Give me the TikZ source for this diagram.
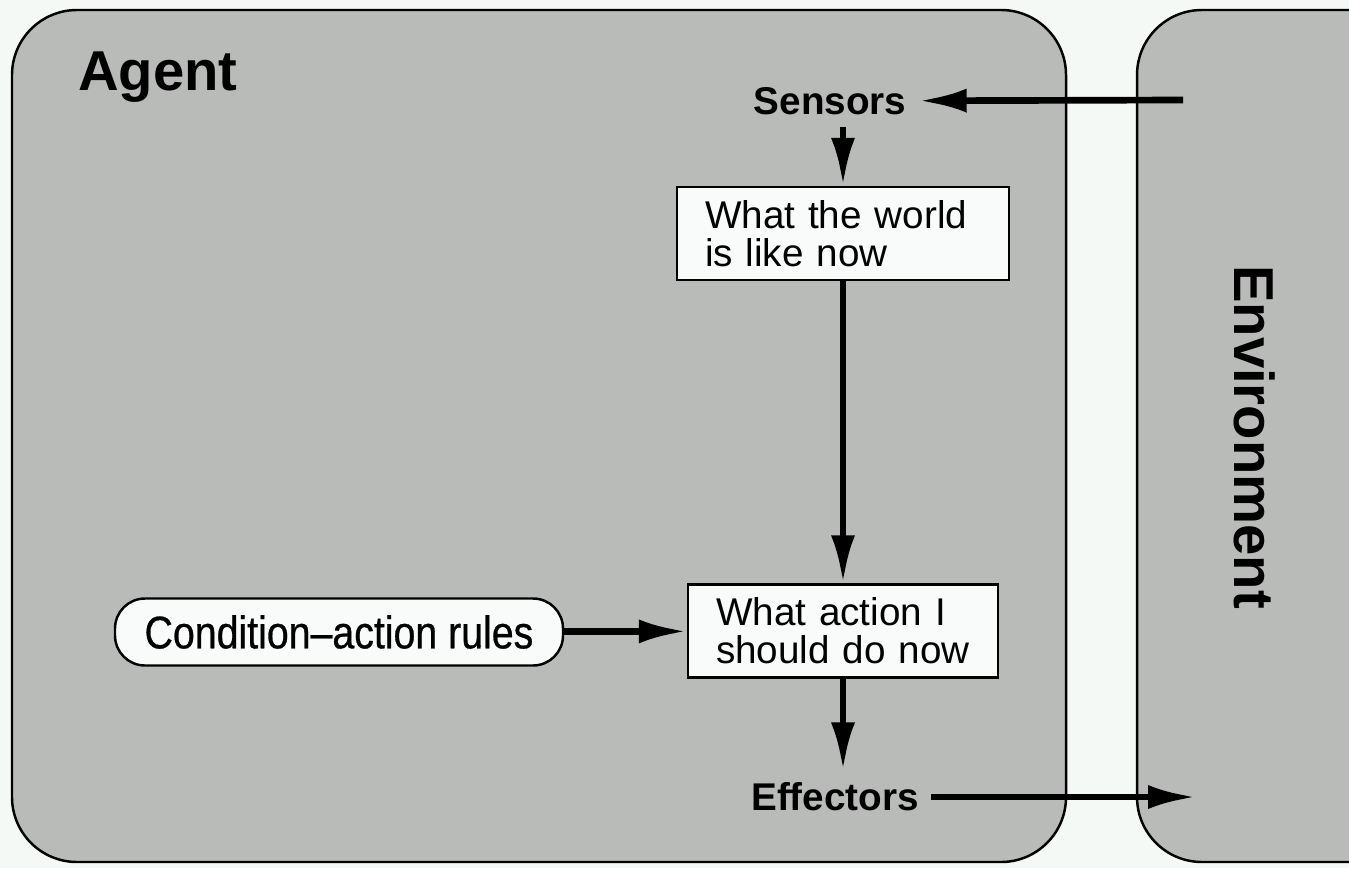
\documentclass[tikz,border=0pt]{standalone}
\usepackage{fontspec}
\setmainfont{Liberation Sans}
\newfontfamily\condfont[FakeStretch=0.86, FakeBold=0.6]{Liberation Sans}
\usetikzlibrary{arrows.meta}
\definecolor{pagebg}{HTML}{F5F9F6}
\definecolor{panelgray}{HTML}{B8BBB8}
\definecolor{boxwhite}{HTML}{F8FBF9}

\begin{document}
\begin{tikzpicture}[
    panel/.style={draw, line width=0.7pt, fill=panelgray, rounded corners=0.65cm},
    statebox/.style={draw, line width=0.7pt, fill=boxwhite, align=left, inner xsep=0.28cm, minimum height=0.93cm, font=\fontsize{11}{10.8}\selectfont},
    port/.style={font=\bfseries\fontsize{11}{13}\selectfont},
    flow/.style={line width=1.9pt, -{Latex[length=0.48cm,width=0.24cm]}}
  ]
    \useasboundingbox (0,0) rectangle (13.49,8.68);
    \fill[pagebg] (0,0) rectangle (13.49,8.68);
    \clip (0,0) rectangle (13.49,8.68);

    % agent and environment
    \draw[panel] (0.12,0.06) rectangle (10.66,8.58);
    \draw[panel] (11.37,0.06) rectangle (14.2,8.58);
    \node[font=\bfseries\fontsize{16}{19}\selectfont] (agent) at (1.58,7.91) {Agent};
    \node[font=\bfseries\fontsize{16}{19}\selectfont, rotate=-90] (env) at (12.55,4.31) {Environment};

    % sensors, effectors
    \node[port] (sensors) at (8.30,7.67) {Sensors};
    \node[port] (effectors) at (8.35,0.71) {Effectors};

    % boxes
    \node[statebox, text width=2.76cm] (world) at (8.43,6.345) {What the world\\is like now};
    \node[statebox, text width=2.54cm] (action) at (8.43,2.37) {What action I\\should do now};
    \node[draw, line width=0.7pt, fill=boxwhite, rounded corners=0.3cm, minimum width=4.48cm, minimum height=0.67cm, font=\condfont\fontsize{13}{15}\selectfont] (rules) at (3.39,2.36) {Condition–action rules};

    \coordinate (percept) at (11.83,7.68);
    \coordinate (act) at (11.96,0.71);

    % arrows
    \draw[flow] (percept) -- (sensors);
    \draw[flow] (sensors.south -| world.north) -- (world.north);
    \draw[flow] (world) -- (action);
    \draw[flow] (rules) -- (action);
    \draw[flow] (action) -- (action.south |- effectors.north);
    \draw[flow] (effectors) -- (act);

\end{tikzpicture}
\end{document}
